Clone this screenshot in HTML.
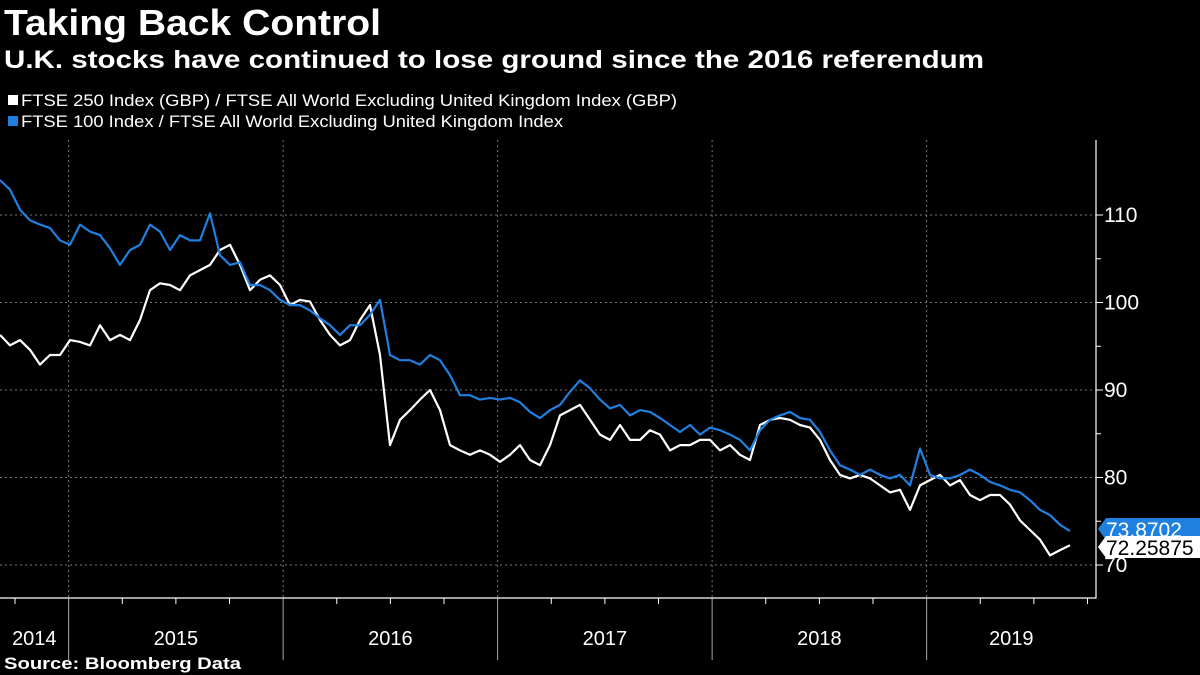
<!DOCTYPE html>
<html><head><meta charset="utf-8"><style>
body{margin:0;background:#000;width:1200px;height:675px;overflow:hidden;font-family:"Liberation Sans",sans-serif;color:#fff}
</style></head><body>
<svg width="1200" height="675" style="position:absolute;left:0;top:0">
<text x="4" y="35" font-size="36" font-weight="bold" fill="#fff" textLength="377" lengthAdjust="spacingAndGlyphs">Taking Back Control</text>
<text x="4" y="68" font-size="25" font-weight="bold" fill="#fff" textLength="980" lengthAdjust="spacingAndGlyphs">U.K. stocks have continued to lose ground since the 2016 referendum</text>
<g>
<rect x="8" y="95" width="10" height="10" fill="#fff"/>
<text x="21" y="106" font-size="17" fill="#fff" textLength="656" lengthAdjust="spacingAndGlyphs">FTSE 250 Index (GBP) / FTSE All World Excluding United Kingdom Index (GBP)</text>
<rect x="8" y="116" width="10" height="10" fill="#1f80e0"/>
<text x="21" y="127" font-size="17" fill="#fff" textLength="542" lengthAdjust="spacingAndGlyphs">FTSE 100 Index / FTSE All World Excluding United Kingdom Index</text>
</g>
<g id="grid"></g>
<g id="axes"></g>
<g id="series"></g>
<g id="labels"></g>
<text x="4" y="669" font-size="17" font-weight="bold" fill="#fff" textLength="237" lengthAdjust="spacingAndGlyphs">Source: Bloomberg Data</text>
</svg>
<script>
const startYear = 2014.68;
const stepYears = 10/214.5;
const yTicks = [70,80,90,100,110];
const yearLabels = ["2014","2015","2016","2017","2018","2019"];
const yearBounds = [2015,2016,2017,2018,2019];
const blueSeries = [114.0,112.9,110.6,109.4,108.9,108.5,107.1,106.6,108.9,108.1,107.7,106.2,104.3,106.0,106.6,108.9,108.1,106.0,107.7,107.1,107.1,110.2,105.4,104.3,104.6,102.0,102.0,101.4,100.3,99.7,99.7,99.1,98.2,97.4,96.3,97.4,97.4,98.6,100.3,94.0,93.4,93.4,92.9,94.0,93.4,91.7,89.4,89.4,88.9,89.1,88.9,89.1,88.6,87.5,86.8,87.7,88.3,89.8,91.1,90.2,88.9,87.9,88.3,87.1,87.7,87.5,86.8,86.0,85.2,86.0,84.9,85.7,85.4,84.9,84.3,83.1,85.4,86.6,87.1,87.5,86.8,86.6,85.2,83.1,81.4,80.9,80.3,80.9,80.3,79.9,80.3,79.1,83.3,80.3,79.9,79.9,80.3,80.9,80.3,79.5,79.1,78.6,78.3,77.4,76.3,75.7,74.6,73.87];
const whiteSeries = [96.3,95.1,95.7,94.6,92.9,94.0,94.0,95.7,95.5,95.1,97.4,95.7,96.3,95.7,98.0,101.4,102.2,102.0,101.4,103.1,103.7,104.3,106.0,106.6,104.3,101.4,102.6,103.1,102.0,99.7,100.3,100.1,98.0,96.3,95.1,95.7,98.0,99.7,94.0,83.7,86.6,87.7,88.9,90.0,87.7,83.7,83.1,82.6,83.1,82.6,81.8,82.6,83.7,82.0,81.4,83.7,87.1,87.7,88.3,86.6,84.9,84.3,86.0,84.3,84.3,85.4,84.9,83.1,83.7,83.7,84.3,84.3,83.1,83.7,82.6,82.0,86.0,86.6,86.8,86.6,86.0,85.7,84.3,82.0,80.3,79.9,80.3,79.9,79.1,78.3,78.6,76.3,79.1,79.7,80.3,79.1,79.7,78.0,77.4,78.0,78.0,76.9,75.1,74.0,72.9,71.1,71.7,72.26];
const lastBlue = "73.8702", lastWhite = "72.25875";

const NS="http://www.w3.org/2000/svg";
const X0=0, PXY=214.5, AX=1096, BOT=598, TOP=140;
const xs = t => X0 + (t-startYear)*PXY;
const ys = v => 565 - (v-70)*8.75;
function mk(tag,attrs,parent){const e=document.createElementNS(NS,tag);for(const k in attrs)e.setAttribute(k,attrs[k]);document.getElementById(parent).appendChild(e);return e;}
yTicks.forEach(v=>{
  const l=mk('line',{x1:0,x2:AX,y1:ys(v),y2:ys(v),stroke:'#777','stroke-dasharray':'2,3','stroke-width':1},'grid');
  
  
  const tk=mk('line',{x1:AX,x2:AX+7,y1:ys(v),y2:ys(v),stroke:'#fff'},'axes');
  
  
  const t=mk('text',{x:AX+8,y:ys(v)+7,'font-size':21,fill:'#fff'},'axes');
  t.textContent=v;
  
  
});
[105,95,85,75].forEach(v=>{
  const tk=mk('line',{x1:AX,x2:AX+5,y1:ys(v),y2:ys(v),stroke:'#fff'},'axes');
  
  
});
yearBounds.forEach(y=>{
  const g=mk('line',{x1:xs(y),x2:xs(y),y1:TOP,y2:BOT,stroke:'#777','stroke-dasharray':'2,3'},'grid');
  
  
  const s=mk('line',{x1:xs(y),x2:xs(y),y1:BOT,y2:660,stroke:'#aaa'},'axes');
  
  
});
for(let q=2014.75;q<2019.9;q+=0.25){
  if(Math.abs(q-Math.round(q))<0.01)continue;
  const x=xs(q); if(x<0||x>AX)continue;
  const tk=mk('line',{x1:x,x2:x,y1:BOT,y2:BOT+6,stroke:'#fff'},'axes');
  
  
}
yearLabels.forEach((lab,i)=>{
  const y=+lab; const a=Math.max(0,xs(y)), b=Math.min(AX,xs(y+1));
  const t=mk('text',{x:(a+b)/2,y:645,'font-size':20,fill:'#fff','text-anchor':'middle'},'axes');
  t.textContent=lab;
  
  
});
const axl=mk('path',{d:`M0 ${BOT} H${AX} V${TOP}`,stroke:'#fff',fill:'none','stroke-width':1.2},'axes');


function line(arr,color,name){
  const d=arr.map((v,i)=>(i?'L':'M')+xs(startYear+i*stepYears).toFixed(1)+' '+ys(v).toFixed(1)).join(' ');
  const p=mk('path',{d:d,stroke:color,fill:'none','stroke-width':2.2,'stroke-linejoin':'round'},'series');
  
  
}
line(whiteSeries,'#fff','ftse250-line');
line(blueSeries,'#1f80e0','ftse100-line');
function tag(v,txt,bg,fg,name){
  const y=ys(v);
  const p=mk('path',{d:`M${AX+2} ${y} L${AX+10} ${y-11} H1200 V${y+11} H${AX+10} Z`,fill:bg},'labels');
  
  
  const t=mk('text',{x:AX+10,y:y+8,'font-size':21,fill:fg},'labels');
  t.textContent=txt;
  
  
}
tag(blueSeries[blueSeries.length-1]+0.25,lastBlue,'#1f80e0','#fff','last-value-ftse100');
tag(whiteSeries[whiteSeries.length-1]-0.2,lastWhite,'#fff','#000','last-value-ftse250');
</script>
</body></html>
